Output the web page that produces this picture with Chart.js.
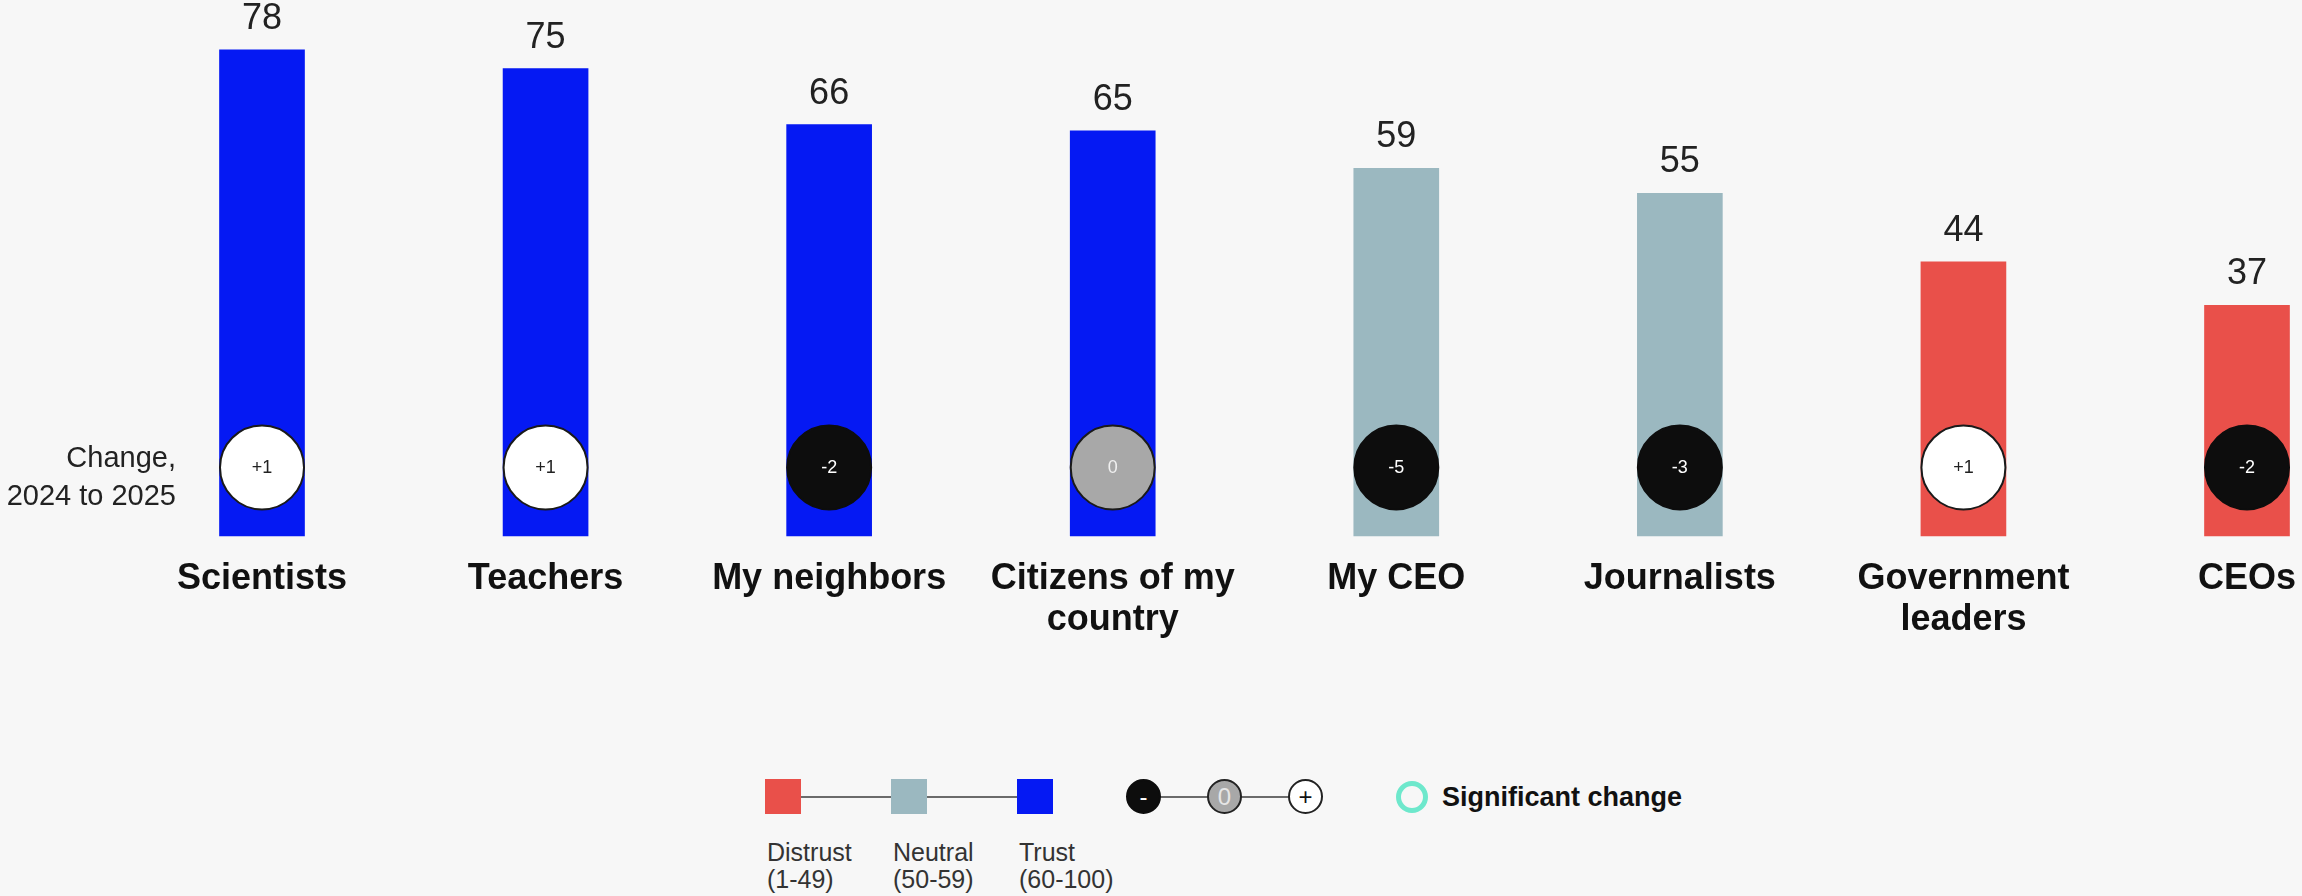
<!DOCTYPE html>
<html>
<head>
<meta charset="utf-8">
<script src="https://cdn.jsdelivr.net/npm/chart.js@4/dist/chart.umd.min.js"></script>
<style>
  html, body { margin: 0; padding: 0; background: #f7f7f7; }
  body { width: 2302px; height: 896px; position: relative; overflow: hidden; font-family: 'Liberation Sans', Arial, sans-serif; }
  #chart-wrap { position: absolute; left: 0; top: 0; width: 2302px; height: 700px; }
  .change-note { position: absolute; left: 0; top: 438px; width: 176px; text-align: right; font-size: 29px; line-height: 38px; color: #222; }
  .lg-line { position: absolute; height: 2px; background: #6b6b6b; }
  .lg-sq { position: absolute; width: 36px; height: 35px; top: 779px; }
  .lg-txt { position: absolute; top: 839px; font-size: 25px; line-height: 27px; color: #333; }
  .lg-dot { position: absolute; width: 35px; height: 35px; top: 779px; border-radius: 50%; box-sizing: border-box; border: 2px solid #222;
            font-size: 24px; line-height: 31px; text-align: center; }
  .lg-ring { position: absolute; left: 1396px; top: 781px; width: 32px; height: 32px; box-sizing: border-box; border: 5px solid #6ee8cc; border-radius: 50%; }
  .lg-sig { position: absolute; left: 1442px; top: 780px; font-size: 27px; line-height: 34px; font-weight: bold; color: #111; }
</style>
</head>
<body>
<div id="chart-wrap"><canvas id="trust-chart" width="2302" height="700"></canvas></div>
<div class="change-note">Change,<br>2024 to 2025</div>

<!-- legend: trust bands -->
<div class="lg-line" style="left:783px; top:796px; width:252px;"></div>
<div class="lg-sq" style="left:765px; background:#e9504a;"></div>
<div class="lg-sq" style="left:891px; background:#9bb8c0;"></div>
<div class="lg-sq" style="left:1017px; background:#0519f3;"></div>
<div class="lg-txt" style="left:767px;">Distrust<br>(1-49)</div>
<div class="lg-txt" style="left:893px;">Neutral<br>(50-59)</div>
<div class="lg-txt" style="left:1019px;">Trust<br>(60-100)</div>

<!-- legend: change direction -->
<div class="lg-line" style="left:1143px; top:796px; width:162px;"></div>
<div class="lg-dot" style="left:1126px; background:#0d0d0d; border-color:#0d0d0d; color:#fff;">-</div>
<div class="lg-dot" style="left:1207px; background:#a8a8a8; color:#e6e6e6;">0</div>
<div class="lg-dot" style="left:1288px; background:#fff; color:#111;">+</div>
<div class="lg-ring"></div>
<div class="lg-sig">Significant change</div>

<script>
// trust index by group
var categories = ['Scientists', 'Teachers', 'My neighbors', ['Citizens of my', 'country'], 'My CEO', 'Journalists', ['Government', 'leaders'], 'CEOs'];
var trustScores = [78, 75, 66, 65, 59, 55, 44, 37];
var changes = [1, 1, -2, 0, -5, -3, 1, -2];

var CHANGE_ROW = 11;   // where the change circles sit, in axis units
var Y_MAX = 86;

function bandColor(v) {
    if (v < 50) return '#e9504a';
    if (v < 60) return '#9bb8c0';
    return '#0519f3';
}

function changeFill(c) {
    if (c > 0) return '#ffffff';
    if (c < 0) return '#0d0d0d';
    return '#a8a8a8';
}

function changeText(c) {
    return c > 0 ? '+' + c : String(c);
}

const labelPlugin = {
    id: 'labelPlugin',
    afterDatasetsDraw(chart) {
        const ctx = chart.ctx;
        ctx.save();
        // values above the bars
        const bars = chart.getDatasetMeta(1).data;
        ctx.font = '36px "Liberation Sans", Arial, sans-serif';
        ctx.fillStyle = '#222';
        ctx.textAlign = 'center';
        ctx.textBaseline = 'alphabetic';
        bars.forEach(function(bar, i) {
            ctx.fillText(trustScores[i], bar.x, bar.y - 21);
        });
        // numbers inside the change circles
        const dots = chart.getDatasetMeta(0).data;
        ctx.font = '18px "Liberation Sans", Arial, sans-serif';
        ctx.textBaseline = 'middle';
        dots.forEach(function(pt, i) {
            ctx.fillStyle = changes[i] > 0 ? '#222' : (changes[i] < 0 ? '#fff' : '#f0f0f0');
            ctx.fillText(changeText(changes[i]), pt.x, pt.y + 1);
        });
        ctx.restore();
    }
};

const chart_ctx = document.getElementById('trust-chart').getContext('2d');

var trust_chart = new Chart(chart_ctx, {
    type: 'bar',
    data: {
        labels: categories,
        datasets: [{
            type: 'line',
            label: 'Change',
            data: changes.map(function() { return CHANGE_ROW; }),
            showLine: false,
            pointRadius: 42,
            pointHoverRadius: 42,
            pointBackgroundColor: changes.map(changeFill),
            pointBorderColor: changes.map(function(c) { return c < 0 ? '#0d0d0d' : '#1a1a1a'; }),
            pointBorderWidth: 2,
            clip: false,
            order: 0
        }, {
            label: 'Trust',
            data: trustScores,
            backgroundColor: trustScores.map(bandColor),
            barThickness: 85,
            clip: false,
            order: 1
        }]
    },
    options: {
        responsive: false,
        animation: false,
        devicePixelRatio: 1,
        layout: { autoPadding: false, padding: { left: 262, right: 55, top: 0, bottom: 0 } },
        plugins: {
            legend: { display: false },
            tooltip: { enabled: false }
        },
        scales: {
            x: {
                offset: false,
                grid: { display: false, drawTicks: false },
                border: { display: false },
                ticks: {
                    autoSkip: false,
                    maxRotation: 0,
                    padding: 22,
                    color: '#111',
                    font: { family: '"Liberation Sans", Arial, sans-serif', size: 36, weight: 'bold', lineHeight: 1.15 }
                },
                afterFit: function(scale) {
                    scale.height = 164;
                    // edge labels may overhang, keep the plot width fixed
                    scale.paddingLeft = 0;
                    scale.paddingRight = 0;
                }
            },
            y: {
                display: false,
                min: 0,
                max: Y_MAX
            }
        }
    },
    plugins: [labelPlugin]
});
</script>
</body>
</html>
